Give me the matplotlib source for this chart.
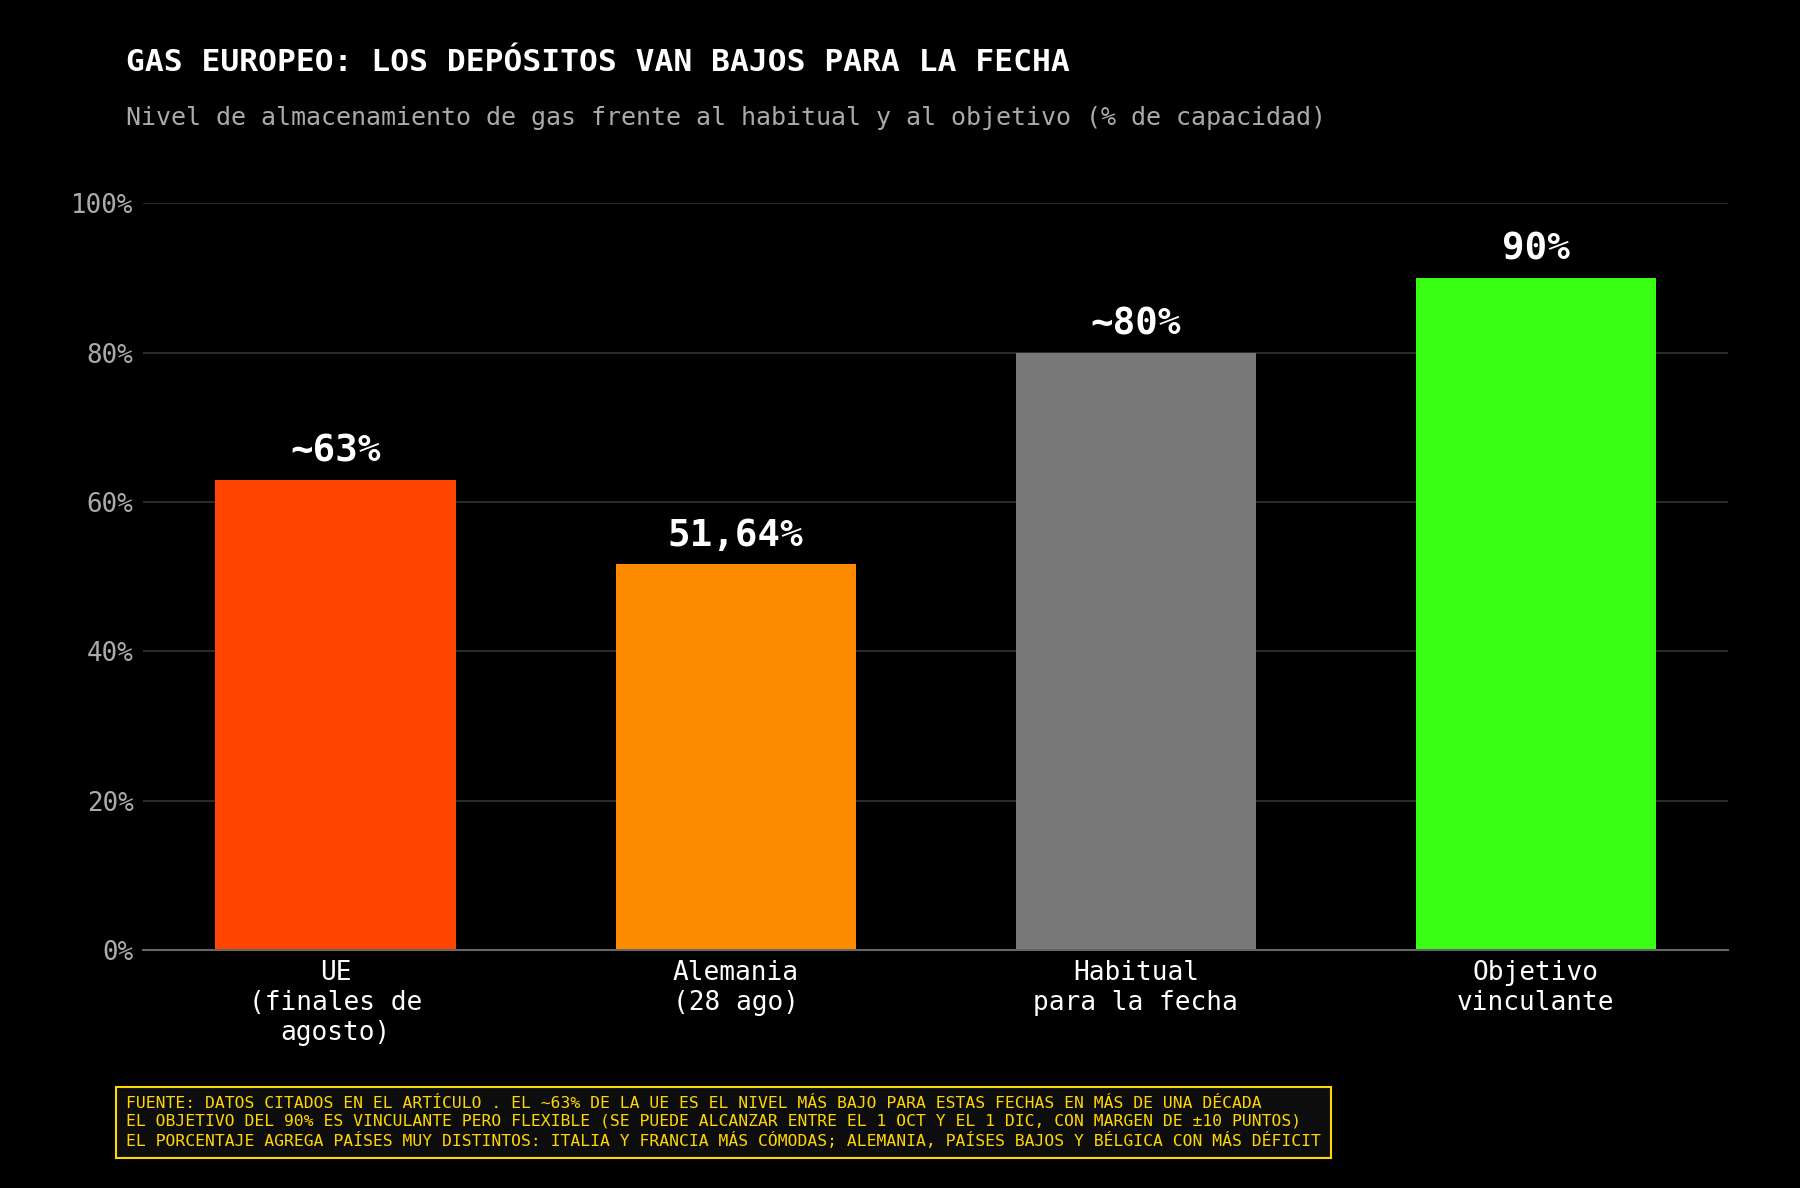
import matplotlib
matplotlib.use("Agg")
import matplotlib.pyplot as plt
from matplotlib.ticker import FuncFormatter

# data
categorias = ["UE\n(finales de\nagosto)", "Alemania\n(28 ago)", "Habitual\npara la fecha", "Objetivo\nvinculante"]
valores = [63, 51.64, 80, 90]
etiquetas = ["~63%", "51,64%", "~80%", "90%"]
colores = ["#FF4500", "#FF8C00", "#787878", "#39FF14"]

titulo = "GAS EUROPEO: LOS DEPÓSITOS VAN BAJOS PARA LA FECHA"
subtitulo = "Nivel de almacenamiento de gas frente al habitual y al objetivo (% de capacidad)"
nota = ("FUENTE: DATOS CITADOS EN EL ARTÍCULO . EL ~63% DE LA UE ES EL NIVEL MÁS BAJO PARA ESTAS FECHAS EN MÁS DE UNA DÉCADA\n"
        "EL OBJETIVO DEL 90% ES VINCULANTE PERO FLEXIBLE (SE PUEDE ALCANZAR ENTRE EL 1 OCT Y EL 1 DIC, CON MARGEN DE ±10 PUNTOS)\n"
        "EL PORCENTAJE AGREGA PAÍSES MUY DISTINTOS: ITALIA Y FRANCIA MÁS CÓMODAS; ALEMANIA, PAÍSES BAJOS Y BÉLGICA CON MÁS DÉFICIT")

plt.rcParams['font.family'] = ['DejaVu Sans Mono', 'DejaVu Sans']

fig = plt.figure(figsize=(18, 11.88), dpi=100, facecolor="black")
ax = fig.add_axes([0.0797, 0.2000, 0.8803, 0.6291])
ax.set_facecolor("black")

x = range(len(categorias))
ax.bar(x, valores, width=0.6, color=colores, zorder=3)

for i, v in enumerate(valores):
    ax.text(i, v + 1.4, etiquetas[i], ha="center", va="bottom",
            color="white", fontsize=27, fontweight="bold", zorder=4)

ax.set_ylim(0, 100)
ax.set_yticks([0, 20, 40, 60, 80, 100])
ax.yaxis.set_major_formatter(FuncFormatter(lambda v, p: f"{v:.0f}%"))
ax.set_xticks(list(x))
ax.set_xticklabels(categorias, color="white", fontsize=18.8)
ax.tick_params(axis="y", colors="#aaaaaa", labelsize=18.6, length=0, pad=7)
ax.tick_params(axis="x", length=0, pad=7, labelcolor="white")
ax.grid(axis="y", color="#333333", linewidth=1.2, zorder=0)

for s in ["top", "right", "left"]:
    ax.spines[s].set_visible(False)
ax.spines["bottom"].set_color("#666666")
ax.spines["bottom"].set_linewidth(1.5)
ax.spines["bottom"].set_zorder(5)

fig.text(0.07, 1 - 71 / 1188, titulo, color="white", fontsize=22.5,
         fontweight="bold", va="baseline", ha="left")
fig.text(0.07, 1 - 125 / 1188, subtitulo, color="#aaaaaa", fontsize=18,
         va="baseline", ha="left")

fig.text(0.07, 1 - 1122.5 / 1188, nota, color="#FFD700", fontsize=11.8,
         va="center", ha="left", linespacing=1.2,
         bbox=dict(boxstyle="square,pad=0.6", facecolor="#0d0d0d",
                   edgecolor="#FFD700", linewidth=1.5))

fig.savefig("out.png", dpi=100, facecolor="black")
